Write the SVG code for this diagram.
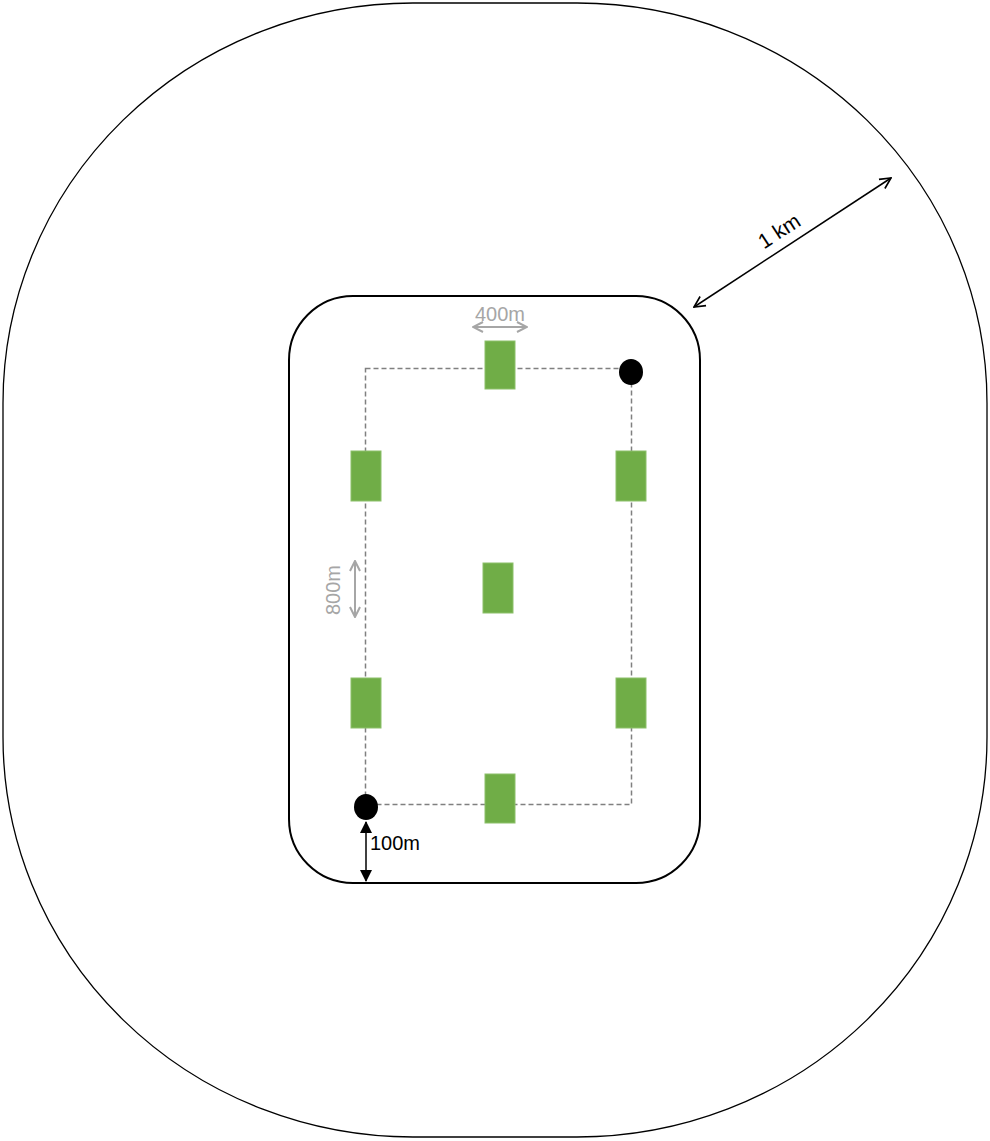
<svg xmlns="http://www.w3.org/2000/svg" width="990" height="1141" viewBox="0 0 990 1141">
<defs>
<style>
.zone{fill:none;stroke:#000}
.plot{fill:#70AD47;stroke:#8CC06A;stroke-width:1}
.dash{fill:none;stroke:#808080;stroke-width:1.5;stroke-dasharray:5 3}
.well{fill:#000}
.dim{fill:none;stroke:#000;stroke-width:1.5}
.gdim{fill:none;stroke:#A6A6A6;stroke-width:2}
.lbl{font-family:"Liberation Sans",Arial,sans-serif;font-size:20px;fill:#000}
.glbl{font-family:"Liberation Sans",Arial,sans-serif;font-size:20px;fill:#A6A6A6}
</style>
<marker id="open" viewBox="0 0 12 12" refX="11" refY="6" markerWidth="13" markerHeight="13" markerUnits="userSpaceOnUse" orient="auto-start-reverse">
<path d="M1,1 L11,6 L1,11" fill="none" stroke="#000" stroke-width="1.5"/>
</marker>
<marker id="gopen" viewBox="0 0 12 12" refX="11" refY="6" markerWidth="12" markerHeight="12" markerUnits="userSpaceOnUse" orient="auto-start-reverse">
<path d="M1,1 L11,6 L1,11" fill="none" stroke="#A6A6A6" stroke-width="2"/>
</marker>
<marker id="solid" viewBox="0 0 12 12" refX="11" refY="6" markerWidth="12" markerHeight="13" markerUnits="userSpaceOnUse" orient="auto-start-reverse">
<path d="M0,0 L12,6 L0,12 Z" fill="#000"/>
</marker>
</defs>
<rect width="990" height="1141" fill="#fff"/>
<g id="outer-zone">
<rect class="zone" x="3" y="3" width="984" height="1134" rx="410" ry="400" stroke-width="1.3"/>
</g>
<g id="inner-zone">
<rect class="zone" x="289" y="296" width="411" height="587" rx="64" ry="64" stroke-width="2"/>
</g>
<g id="connectors">
<rect class="dash" x="365.5" y="368.5" width="266" height="436"/>
<line class="dim" x1="694" y1="307" x2="891" y2="178" marker-start="url(#open)" marker-end="url(#open)"/>
<line class="dim" x1="366" y1="822" x2="366" y2="881" marker-start="url(#solid)" marker-end="url(#solid)"/>
<line class="gdim" x1="473" y1="327" x2="527" y2="327" marker-start="url(#gopen)" marker-end="url(#gopen)"/>
<line class="gdim" x1="355" y1="561" x2="355" y2="617" marker-start="url(#gopen)" marker-end="url(#gopen)"/>
</g>
<g id="plot-top"><rect class="plot" x="485" y="341" width="30" height="48"/></g>
<g id="plot-left-1"><rect class="plot" x="351" y="451" width="30" height="50"/></g>
<g id="plot-right-1"><rect class="plot" x="616" y="451" width="30" height="50"/></g>
<g id="plot-center"><rect class="plot" x="483" y="563" width="30" height="50"/></g>
<g id="plot-left-2"><rect class="plot" x="351" y="678" width="30" height="50"/></g>
<g id="plot-right-2"><rect class="plot" x="616" y="678" width="30" height="50"/></g>
<g id="plot-bottom"><rect class="plot" x="485" y="774" width="30" height="49"/></g>
<g id="well-top-right"><ellipse class="well" cx="631" cy="372" rx="12" ry="13"/></g>
<g id="well-bottom-left"><ellipse class="well" cx="366" cy="807" rx="12" ry="13"/></g>
<g id="labels">
<text class="glbl" x="500" y="321" text-anchor="middle">400m</text>
<text class="glbl" x="0" y="0" text-anchor="middle" transform="translate(340,590) rotate(-90)">800m</text>
<text class="lbl" x="370" y="850">100m</text>
<text class="lbl" x="0" y="0" text-anchor="middle" transform="translate(783,237) rotate(-33)" style="font-size:21px">1 km</text>
</g>
</svg>
